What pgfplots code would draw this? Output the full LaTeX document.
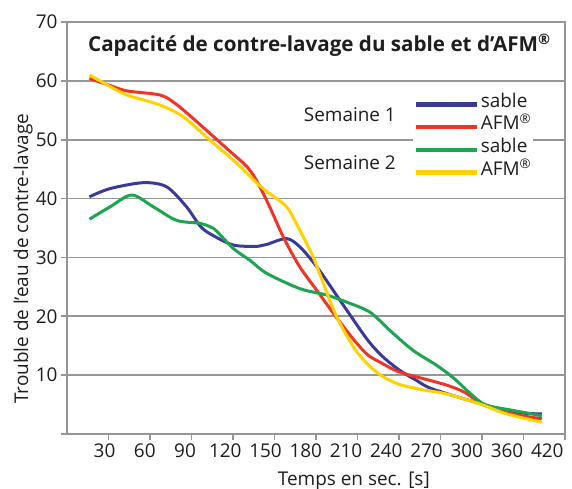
\documentclass[border=0pt]{standalone}
\usepackage{pgfplots}
\pgfplotsset{compat=1.18}
\usepackage{fontspec}
\setmainfont{Open Sans}
\definecolor{cblue}{RGB}{58,58,155}
\definecolor{cred}{RGB}{240,52,40}
\definecolor{cgreen}{RGB}{30,165,82}
\definecolor{cyellow}{RGB}{255,210,0}
\definecolor{cgrid}{RGB}{150,150,150}
\definecolor{ctext}{RGB}{30,30,30}
\newcommand{\fs}{\fontsize{19}{22}\selectfont}
\newcommand{\reg}{\textsuperscript{®}}
\begin{document}
\begin{tikzpicture}
\useasboundingbox (-67bp,-55bp) rectangle (505bp,434bp);
\begin{axis}[
  at={(0,0)}, anchor=south west,
  width=498bp, height=412bp, scale only axis,
  xmin=0, xmax=12, ymin=0, ymax=70,
  xtick={1,...,12},
  xticklabels={30,60,90,120,150,180,210,240,270,300,360,420},
  xticklabel style={xshift=-4bp-1.25bp*\ticknum},
  ytick={0,10,...,70},
  yticklabels={,10,20,30,40,50,60,70},
  xtick pos=lower, ytick pos=left,
  tick align=outside, major tick length=6bp,
  ymajorgrids,
  grid style={cgrid, line width=1.6bp},
  axis line style={cgrid, line width=1.6bp},
  tick style={cgrid, line width=1.6bp},
  /pgf/number format/assume math mode=true,
  tick label style={font=\fs, text=ctext},
  xlabel={Temps en sec. [s]},
  ylabel={Trouble de l’eau de contre-lavage},
  label style={font=\fs, text=ctext},
  xlabel style={at={(axis description cs:0.576,-0.114)}, anchor=center},
  ylabel style={at={(axis description cs:-0.088,0.425)}, anchor=center},
  legend style={at={(rel axis cs:0.695,0.828)}, anchor=north west,
    draw=none, fill=white, inner sep=0pt, font=\fs, text=ctext, row sep=0pt,
    nodes={inner ysep=0pt, inner xsep=2bp, text height=14bp, text depth=8.7bp}},
  legend cell align=left,
  legend image code/.code={\draw[#1, line width=4.5bp] (0bp,0bp) -- (61bp,0bp);},
  every axis plot/.append style={line width=3bp, smooth},
]
\addplot[cblue] coordinates {
(0.54,40.3) (1.04,41.7) (1.84,42.7) (2.4,42.0) (2.88,38.6) (3.2,35.4) (3.45,34.0)
(4.01,32.1) (4.61,31.9) (4.81,32.2) (5.29,33.2) (5.61,31.8) (6.02,28.4) (6.58,22.7)
(7.22,16.2) (7.6,13.2) (8.02,10.8) (8.4,9.2) (8.75,7.8) (9.55,6.0) (10.1,4.9)
(10.75,3.7) (11.44,3.4)};
\addlegendentry{sable}
\addplot[cred] coordinates {
(0.54,60.4) (1.0,59.3) (1.44,58.3) (2.24,57.6) (2.6,56.2) (3.04,53.6) (3.85,48.5)
(4.41,44.8) (4.81,39.7) (5.21,33.5) (5.6,28.5) (6.02,24.4) (6.42,20.5) (6.82,16.8)
(7.22,13.6) (7.54,12.2) (8.02,10.5) (8.75,9.1) (9.15,8.3) (9.55,7.2) (10.03,5.1)
(10.75,3.4) (11.44,2.6)};
\addlegendentry{AFM\reg}
\addplot[cgreen] coordinates {
(0.54,36.5) (1.04,38.6) (1.56,40.6) (2.08,38.6) (2.64,36.3) (3.2,35.8) (3.45,35.2)
(3.6,34.5) (4.01,31.5) (4.41,29.5) (4.81,27.3) (5.61,24.7) (6.26,23.6) (6.74,22.4)
(7.3,20.7) (7.78,17.6) (8.34,14.2) (8.9,11.7) (9.3,9.6) (9.78,6.5) (10.1,4.9)
(10.75,4.0) (11.44,3.1)};
\addlegendentry{sable}
\addplot[cyellow] coordinates {
(0.54,61.0) (1.0,59.2) (1.44,57.6) (2.24,55.9) (2.8,53.9) (3.45,49.9) (4.09,46.0)
(4.61,42.4) (4.81,41.2) (5.29,38.6) (5.61,34.6) (5.93,30.1) (6.1,27.0) (6.5,19.9)
(6.98,14.0) (7.46,10.5) (7.94,8.6) (8.5,7.6) (9.15,6.8) (9.95,5.1) (10.6,3.4)
(11.44,2.0)};
\addlegendentry{AFM\reg}
\node[anchor=west, inner sep=0pt, text=ctext, font=\bfseries\fontsize{20.7}{23}\selectfont] at (rel axis cs:0.042,0.944)
  {Capacité de contre-lavage du sable et d’AFM\reg};
\node[font=\fs, text=ctext] at (rel axis cs:0.568,0.774) {Semaine 1};
\node[font=\fs, text=ctext] at (rel axis cs:0.568,0.658) {Semaine 2};
\end{axis}
\end{tikzpicture}
\end{document}
